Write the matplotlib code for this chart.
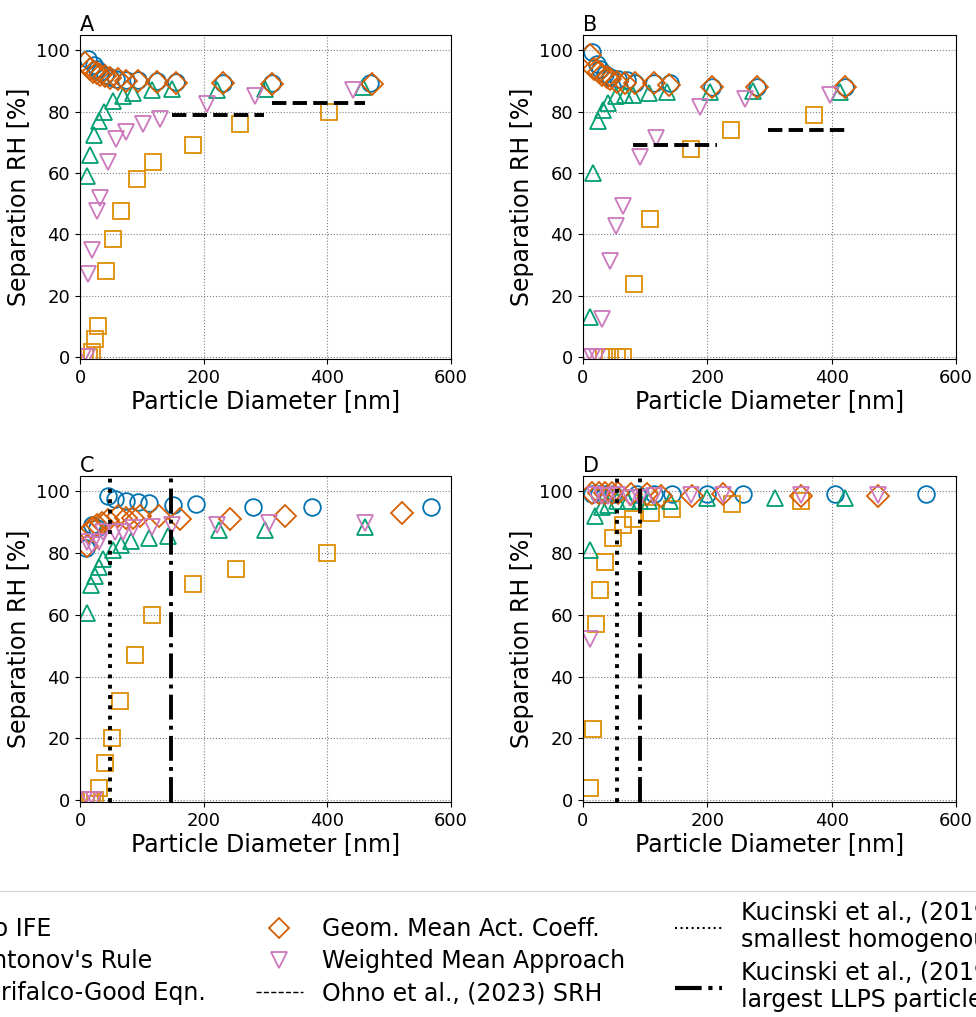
import matplotlib
matplotlib.use("Agg")
import matplotlib.pyplot as plt
from matplotlib.lines import Line2D

# method names (legend order)
methods = ["No IFE", "Antonov's Rule", "Girifalco-Good Eqn.",
           "Geom. Mean Act. Coeff.", "Weighted Mean Approach"]
ohno_label = "Ohno et al., (2023) SRH"
kuc_small_label = "Kucinski et al., (2019)\nsmallest homogenous particle"
kuc_large_label = "Kucinski et al., (2019)\nlargest LLPS particle"

# ---- panel A ----
a_noife_d = [13, 22, 27, 32, 40, 48, 59, 75, 94, 124, 156, 232, 310, 469]
a_noife_rh = [97.3, 95.1, 94, 93, 92, 91.3, 90.5, 90.3, 90.3, 90, 89.7, 89.5, 89.2, 89.2]
a_anton_d = [8, 14, 19, 24, 29, 42, 53, 66, 92, 118, 183, 258, 403]
a_anton_rh = [0, 0, 1.7, 6, 10, 28, 38.6, 47.7, 58, 63.5, 69, 76, 80]
a_giri_d = [11, 16, 23, 31, 39, 54, 70, 86, 116, 148, 221, 299, 458]
a_giri_rh = [59, 66, 72.5, 77, 80, 83.5, 85, 86, 87, 87.5, 87, 87.5, 88]
a_geom_d = [8, 16, 21, 27, 32, 40, 48, 62, 75, 94, 124, 155, 232, 310, 472]
a_geom_rh = [96, 94, 93, 92.5, 92, 91.5, 91, 90.5, 90, 90, 89.7, 89.5, 89.2, 89, 89]
a_wmean_d = [5, 12, 13, 20, 27, 32, 46, 59, 74, 102, 129, 205, 283, 442]
a_wmean_rh = [0, 0, 27, 35, 47.5, 52, 63.7, 71, 73.5, 76, 77.5, 82.5, 85, 87]
a_ohno = [(148, 297, 79), (310, 461, 83)]

# ---- panel B ----
b_noife_d = [14, 22, 28, 36, 44, 57, 71, 84, 114, 140, 207, 280, 422]
b_noife_rh = [99.5, 95.7, 94, 92.4, 91.3, 90.5, 90.3, 89.4, 89.2, 89.2, 88.1, 88.1, 88.1]
b_anton_d = [33, 44, 55, 65, 82, 107, 173, 238, 371]
b_anton_rh = [0, 0, 0, 0, 24, 45, 68, 74, 79]
b_giri_d = [11, 16, 24, 32, 40, 53, 68, 81, 106, 135, 205, 274, 414]
b_giri_rh = [13, 60, 77, 80.5, 83, 85, 85.5, 85.6, 86, 86.5, 86.5, 86.7, 86.5]
b_geom_d = [12, 17, 25, 30, 39, 44, 55, 68, 84, 114, 138, 207, 280, 422]
b_geom_rh = [98.4, 94, 93, 92, 91.3, 90.5, 89.7, 89.2, 89.2, 89.2, 88.6, 88.1, 88.1, 88.1]
b_wmean_d = [6, 14, 22, 30, 43, 53, 65, 91, 117, 189, 260, 397]
b_wmean_rh = [0, 0, 0, 12.3, 31.3, 42.6, 49.4, 65.4, 71.3, 81.4, 84.3, 85.4]
b_ohno = [(80, 216, 69), (297, 423, 74)]

# ---- panel C ----
c_noife_d = [10, 19, 27, 46, 57, 75, 94, 112, 150, 188, 279, 376, 568]
c_noife_rh = [81.6, 89, 88, 98.4, 97.6, 97, 96.5, 96.2, 95.7, 95.8, 95.1, 95.1, 95.1]
c_anton_d = [10, 16, 20, 25, 30, 40, 51, 64, 89, 117, 183, 253, 399]
c_anton_rh = [0, 0, 0, 0, 4, 12, 20, 32, 47, 60, 70, 75, 80]
c_giri_d = [11, 17, 24, 31, 38, 54, 67, 82, 112, 143, 224, 299, 461]
c_giri_rh = [60.5, 69.7, 72.6, 75.6, 78, 81, 82.7, 84, 85, 85.6, 87.5, 87.5, 88.6]
c_geom_d = [11, 15, 20, 27, 35, 46, 62, 75, 86, 97, 127, 162, 243, 332, 520]
c_geom_rh = [82.3, 87, 88, 89, 89.7, 90.8, 91.9, 91.4, 91.4, 91.9, 91.9, 91, 91, 92.1, 93.1]
c_wmean_d = [6, 11, 14, 20, 22, 30, 38, 57, 70, 86, 116, 148, 221, 305, 461]
c_wmean_rh = [0, 83.5, 0, 82.5, 0, 83.7, 87, 87, 87, 88, 88.6, 89.2, 89.2, 89.7, 89.7]
c_kuc = (48, 147)

# ---- panel D ----
d_noife_d = [14, 25, 36, 49, 87, 114, 143, 199, 257, 405, 552]
d_noife_rh = [99.3, 99.3, 99.3, 99.3, 99.3, 99.3, 99.2, 99.2, 99.2, 99.2, 99.2]
d_anton_d = [11, 16, 21, 28, 35, 49, 64, 80, 110, 143, 240, 350]
d_anton_rh = [4, 23, 57, 68, 77, 85, 89, 91, 93, 94.3, 95.8, 96.8]
d_giri_d = [12, 20, 31, 41, 55, 73, 92, 106, 140, 199, 309, 421]
d_giri_rh = [81, 92, 95, 95.7, 96.8, 96.8, 96.8, 96.8, 96.8, 97.9, 97.9, 97.9]
d_geom_d = [14, 25, 36, 47, 57, 78, 103, 126, 176, 225, 351, 474]
d_geom_rh = [99.6, 99.6, 99.6, 99.6, 99.6, 99.3, 99.2, 98.6, 98.6, 99.2, 98.4, 98.6]
d_wmean_d = [11, 20, 31, 41, 55, 76, 92, 114, 173, 225, 351, 474]
d_wmean_rh = [52.3, 98.9, 98.4, 98.4, 98.9, 97.9, 97.9, 98.4, 98.9, 98.9, 98.9, 98.9]
d_kuc = (54, 91)

colors = ["#0173b2", "#de8f05", "#029e73", "#d55e00", "#cc78bc"]
markers = ["o", "s", "^", "D", "v"]
sizes = [12, 12, 12, 11, 12]

panels = [
    ("A", [(a_noife_d, a_noife_rh), (a_anton_d, a_anton_rh), (a_giri_d, a_giri_rh),
           (a_geom_d, a_geom_rh), (a_wmean_d, a_wmean_rh)], a_ohno, None),
    ("B", [(b_noife_d, b_noife_rh), (b_anton_d, b_anton_rh), (b_giri_d, b_giri_rh),
           (b_geom_d, b_geom_rh), (b_wmean_d, b_wmean_rh)], b_ohno, None),
    ("C", [(c_noife_d, c_noife_rh), (c_anton_d, c_anton_rh), (c_giri_d, c_giri_rh),
           (c_geom_d, c_geom_rh), (c_wmean_d, c_wmean_rh)], None, c_kuc),
    ("D", [(d_noife_d, d_noife_rh), (d_anton_d, d_anton_rh), (d_giri_d, d_giri_rh),
           (d_geom_d, d_geom_rh), (d_wmean_d, d_wmean_rh)], None, d_kuc),
]

W, H = 976, 1017
fig = plt.figure(figsize=(W / 100, H / 100), dpi=100)

# axes boxes in pixels: left, top, right, bottom
boxes = [(80, 35, 451, 359), (583, 35, 956, 359),
         (80, 476, 451, 802), (583, 476, 956, 802)]

for (name, series, ohno, kuc), (l, t, r, b) in zip(panels, boxes):
    ax = fig.add_axes([l / W, 1 - b / H, (r - l) / W, (b - t) / H])
    for (d, rh), c, m, s in zip(series, colors, markers, sizes):
        ax.plot(d, rh, linestyle="none", marker=m, markersize=s,
                markerfacecolor="none", markeredgecolor=c, markeredgewidth=1.3)
    if ohno:
        for x0, x1, y in ohno:
            ax.hlines(y, x0, x1, colors="black", linestyles="--", linewidth=2.8)
    if kuc:
        ax.axvline(kuc[0], color="black", linestyle=":", linewidth=2.8)
        ax.axvline(kuc[1], color="black", linestyle="-.", linewidth=2.8)
    ax.set_xlim(0, 600)
    ax.set_ylim(-0.6, 105)
    ax.set_xticks([0, 200, 400, 600])
    ax.set_yticks([0, 20, 40, 60, 80, 100])
    ax.tick_params(labelsize=13)
    ax.grid(True, linestyle=":", color="gray", linewidth=0.8)
    ax.set_xlabel("Particle Diameter [nm]", fontsize=17, labelpad=2)
    ax.set_ylabel("Separation RH [%]", fontsize=17)
    ax.set_title(name, loc="left", fontsize=15, pad=3)

handles = [Line2D([], [], linestyle="none", marker=m, markersize=s * 0.95,
                  markerfacecolor="none", markeredgecolor=c, markeredgewidth=1.3)
           for c, m, s in zip(colors, markers, sizes)]
handles.append(Line2D([], [], color="black", linestyle="--", linewidth=1))
handles.append(Line2D([], [], color="black", linestyle=":", linewidth=1.5))
handles.append(Line2D([], [], color="black", linestyle="-.", linewidth=3))
labels = methods + [ohno_label, kuc_small_label, kuc_large_label]

fig.legend(handles, labels, loc="upper center", bbox_to_anchor=(0.516, 1 - 891 / H),
           ncol=3, fontsize=17, columnspacing=2.1, labelspacing=0.35,
           borderaxespad=0, frameon=True)

fig.savefig("out.png", dpi=100)
